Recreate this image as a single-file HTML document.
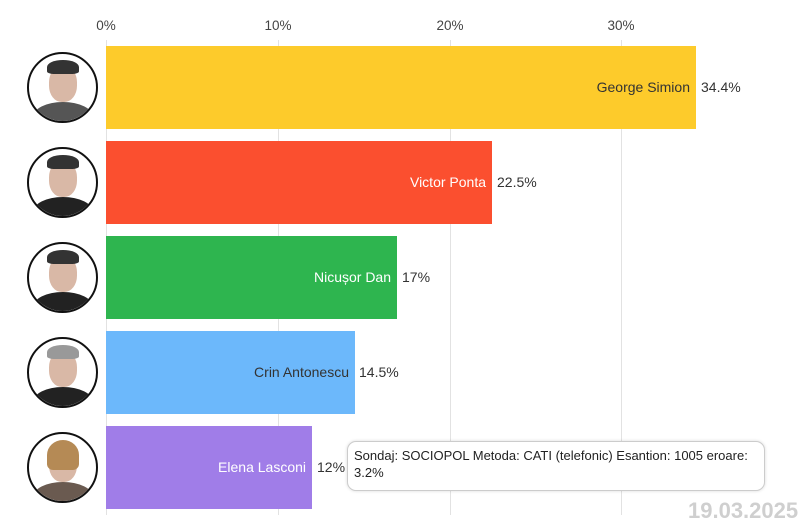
<!DOCTYPE html>
<html><head><meta charset="utf-8"><style>
body{margin:0;background:#fff;width:800px;height:530px;overflow:hidden;font-family:"Liberation Sans",sans-serif;position:relative}
.t{position:absolute;top:18px;font-size:13.5px;color:#444;transform:translateX(-50%)}
.g{position:absolute;top:40px;height:475px;width:1px;background:#e2e2e2}
.b{position:absolute;left:106px;height:83px}
.n{position:absolute;font-size:14px;text-align:right;transform:translateY(-50%)}
.v{position:absolute;font-size:14px;color:#333;transform:translateY(-50%)}
.c{position:absolute;left:27px;width:67px;height:67px;border:2px solid #111;border-radius:50%;background:#fff;overflow:hidden}
.c .f{position:absolute;left:20px;top:12px;width:28px;height:36px;border-radius:45%;background:#d9b8a6}
.c .h{position:absolute;left:18px;top:6px;width:32px;height:14px;border-radius:50% 50% 20% 20%;background:#333}
.c .s{position:absolute;left:4px;top:48px;width:60px;height:30px;border-radius:50% 50% 0 0;background:#222}
</style></head><body>
<div class="t" style="left:106px">0%</div>
<div class="t" style="left:278px">10%</div>
<div class="t" style="left:450px">20%</div>
<div class="t" style="left:621px">30%</div>
<div class="g" style="left:106px"></div>
<div class="g" style="left:278px"></div>
<div class="g" style="left:450px"></div>
<div class="g" style="left:621px"></div>

<div class="b" style="top:46px;width:590px;background:#fdcb2b"></div>
<div class="b" style="top:141px;width:386px;background:#fb4f2f"></div>
<div class="b" style="top:236px;width:291px;background:#2eb54f"></div>
<div class="b" style="top:331px;width:249px;background:#6cb8fb"></div>
<div class="b" style="top:426px;width:206px;background:#a07de8"></div>

<div class="n" style="top:87px;right:110px;color:#333">George Simion</div>
<div class="v" style="top:87px;left:701px">34.4%</div>
<div class="n" style="top:182px;right:314px;color:#fff">Victor Ponta</div>
<div class="v" style="top:182px;left:497px">22.5%</div>
<div class="n" style="top:277px;right:409px;color:#fff">Nicușor Dan</div>
<div class="v" style="top:277px;left:402px">17%</div>
<div class="n" style="top:372px;right:451px;color:#333">Crin Antonescu</div>
<div class="v" style="top:372px;left:359px">14.5%</div>
<div class="n" style="top:467px;right:494px;color:#fff">Elena Lasconi</div>
<div class="v" style="top:467px;left:317px">12%</div>

<div class="c" style="top:52px"><div class="f"></div><div class="h"></div><div class="s" style="background:#555"></div></div>
<div class="c" style="top:147px"><div class="f"></div><div class="h"></div><div class="s"></div></div>
<div class="c" style="top:242px"><div class="f"></div><div class="h"></div><div class="s"></div></div>
<div class="c" style="top:337px"><div class="f"></div><div class="h" style="background:#999"></div><div class="s"></div></div>
<div class="c" style="top:432px"><div class="f"></div><div class="h" style="background:#b58a55;height:30px"></div><div class="s" style="background:#6a5a50"></div></div>

<div style="position:absolute;left:347px;top:441px;width:404px;height:38px;padding:5px 6px;border:1px solid #ccc;border-radius:9px;background:#fff;box-shadow:0 0 3px rgba(0,0,0,.15);font-size:13px;line-height:17px;color:#222">Sondaj: SOCIOPOL Metoda: CATI (telefonic) Esantion: 1005 eroare: 3.2%</div>
<div style="position:absolute;left:688px;top:498px;font-size:22px;font-weight:bold;color:#cfcfcf;white-space:nowrap">19.03.2025</div>
</body></html>
